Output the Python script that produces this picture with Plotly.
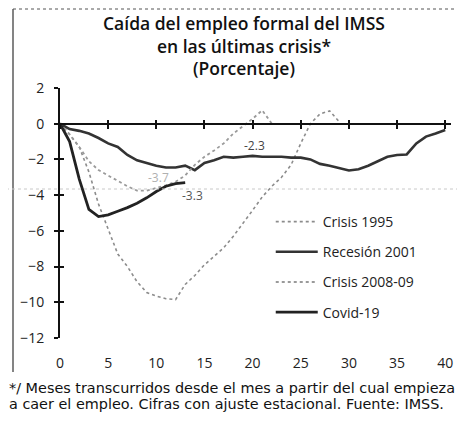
import plotly.graph_objects as go

# ---------------- data ----------------
months_1995 = list(range(0, 30))
crisis_1995 = [0.0, -0.6, -1.3, -2.7, -4.5, -5.9, -7.3, -8.0, -8.85, -9.45,
               -9.65, -9.8, -9.85, -9.0, -8.5, -7.9, -7.4, -6.95, -6.3, -5.6,
               -4.85, -4.1, -3.5, -3.0, -2.3, -1.1, 0.0, 0.55, 0.72, 0.1]

months_2001 = list(range(0, 41))
recesion_2001 = [0.0, -0.3, -0.4, -0.55, -0.8, -1.1, -1.3, -1.75, -2.05, -2.2,
                 -2.35, -2.45, -2.45, -2.35, -2.6, -2.2, -2.05, -1.85, -1.9, -1.85,
                 -1.8, -1.85, -1.85, -1.85, -1.9, -1.9, -2.0, -2.25, -2.35, -2.5,
                 -2.62, -2.55, -2.35, -2.1, -1.85, -1.75, -1.72, -1.1, -0.72, -0.55,
                 -0.35]

months_2008 = list(range(0, 23))
crisis_2008 = [0.0, -0.6, -1.3, -2.1, -2.6, -2.9, -3.2, -3.5, -3.75, -3.75,
               -3.6, -3.45, -3.25, -2.9, -2.3, -1.85, -1.5, -1.1, -0.55, -0.15,
               0.28, 0.75, 0.0]

months_covid = list(range(0, 14))
covid_19 = [0.0, -1.0, -3.1, -4.8, -5.2, -5.1, -4.9, -4.7, -4.45, -4.15,
            -3.8, -3.5, -3.35, -3.3]

series_names = ["Crisis 1995", "Recesión 2001", "Crisis 2008-09", "Covid-19"]
x_ticks = [0, 5, 10, 15, 20, 25, 30, 35, 40]
y_ticks = [-12, -10, -8, -6, -4, -2, 0, 2]

title_lines = ["Caída del empleo formal del IMSS", "en las últimas crisis*", "(Porcentaje)"]
note_lines = ["*/ Meses transcurridos desde el mes a partir del cual empieza",
              "a caer el empleo. Cifras con ajuste estacional. Fuente: IMSS."]

labels_text = ["-2.3", "-3.7", "-3.3"]
labels_x = [20.2, 10.2, 13.75]
labels_y = [-1.2, -3.0, -4.0]

FONT = "Open Sans"
NOTE_FONT = "DejaVu Sans"

fig = go.Figure()

fig.add_trace(go.Scatter(x=months_1995, y=crisis_1995, mode="lines", name=series_names[0],
                         legendgroup="a",
                         line=dict(color="#8c8c8c", width=1.6, dash="dot")))
fig.add_trace(go.Scatter(x=months_2001, y=recesion_2001, mode="lines", name=series_names[1],
                         legendgroup="b",
                         line=dict(color="#333333", width=2.6)))
fig.add_trace(go.Scatter(x=months_2008, y=crisis_2008, mode="lines", name=series_names[2],
                         legendgroup="c",
                         line=dict(color="#9a9a9a", width=1.8, dash="dot")))
fig.add_trace(go.Scatter(x=months_covid, y=covid_19, mode="lines", name=series_names[3],
                         legendgroup="d",
                         line=dict(color="#222222", width=2.8)))

# empty helper traces so the tick-overlay axes are drawn
fig.add_trace(go.Scatter(x=[], y=[], xaxis="x2", yaxis="y", showlegend=False, hoverinfo="skip"))
fig.add_trace(go.Scatter(x=[], y=[], xaxis="x3", yaxis="y", showlegend=False, hoverinfo="skip"))
fig.add_trace(go.Scatter(x=[], y=[], xaxis="x", yaxis="y2", showlegend=False, hoverinfo="skip"))

for t, xx, yy, col in zip(labels_text, labels_x, labels_y, ["#444444", "#b0b0b0", "#555555"]):
    fig.add_annotation(x=xx, y=yy, text=t, showarrow=False,
                       font=dict(family=FONT, size=12, color=col))

fig.add_annotation(xref="paper", yref="paper", x=-0.135, y=-0.2, xanchor="left", yanchor="middle",
                   text=note_lines[0], showarrow=False, align="left",
                   font=dict(family=NOTE_FONT, size=14.4, color="#111111"))
fig.add_annotation(xref="paper", yref="paper", x=-0.135, y=-0.264, xanchor="left", yanchor="middle",
                   text=note_lines[1], showarrow=False, align="left",
                   font=dict(family=NOTE_FONT, size=14.4, color="#111111"))

# frame remnants of the scanned page
fig.add_shape(type="line", xref="paper", yref="paper", x0=-0.1202, x1=-0.1202, y0=1.316, y1=-0.136,
              line=dict(color="#333333", width=1.2))
fig.add_shape(type="line", xref="paper", yref="paper", x0=-0.1202, x1=1.036, y0=1.316, y1=1.316,
              line=dict(color="#555555", width=1, dash="dot"))
fig.add_shape(type="line", xref="paper", yref="paper", x0=-0.1535, x1=1.036, y0=0.596, y1=0.596,
              line=dict(color="#c8c8c8", width=1, dash="dot"))

fig.update_layout(
    width=457, height=413,
    margin=dict(l=52, r=14, t=80, b=83),
    paper_bgcolor="white", plot_bgcolor="white",
    font=dict(family=FONT, size=14, color="#222222"),
    title=dict(text="<br>".join(title_lines), xref="container", yref="container",
               x=0.5164, xanchor="center", y=0.947, yanchor="top",
               font=dict(family=FONT, size=17.5, color="#111111", weight=600)),
    showlegend=True,
    legend=dict(x=0.539, y=0.528, xanchor="left", yanchor="top",
                bgcolor="rgba(0,0,0,0)", traceorder="grouped", tracegroupgap=9,
                itemwidth=42, font=dict(family=FONT, size=14, color="#222222")),
    xaxis=dict(range=[0, 40.6], tickvals=x_ticks, showgrid=False, zeroline=False,
               showline=False, ticks="outside", ticklen=12, tickcolor="rgba(0,0,0,0)",
               tickfont=dict(family=FONT, size=14, color="#222222")),
    xaxis2=dict(range=[0, 40.6], tickvals=x_ticks, overlaying="x", anchor="free",
                position=12 / 14, showgrid=False, zeroline=False, showticklabels=False,
                showline=True, linecolor="#111111", linewidth=2,
                ticks="outside", ticklen=4, tickwidth=2, tickcolor="#111111"),
    xaxis3=dict(range=[0, 40.6], tickvals=x_ticks, overlaying="x", anchor="free",
                position=12 / 14, showgrid=False, zeroline=False, showticklabels=False,
                showline=False, ticks="inside", ticklen=4, tickwidth=2, tickcolor="#111111"),
    yaxis=dict(range=[-12, 2], tickvals=y_ticks, showgrid=False, zeroline=False,
               showline=True, linecolor="#111111", linewidth=2,
               ticks="outside", ticklen=4, tickwidth=2, tickcolor="#111111",
               ticklabelstandoff=7,
               tickfont=dict(family=FONT, size=14, color="#222222")),
    yaxis2=dict(range=[-12, 2], tickvals=y_ticks, overlaying="y", anchor="x", side="left",
                showgrid=False, zeroline=False, showticklabels=False, showline=False,
                ticks="inside", ticklen=4, tickwidth=2, tickcolor="#111111"),
)

fig.write_html("out.html")
